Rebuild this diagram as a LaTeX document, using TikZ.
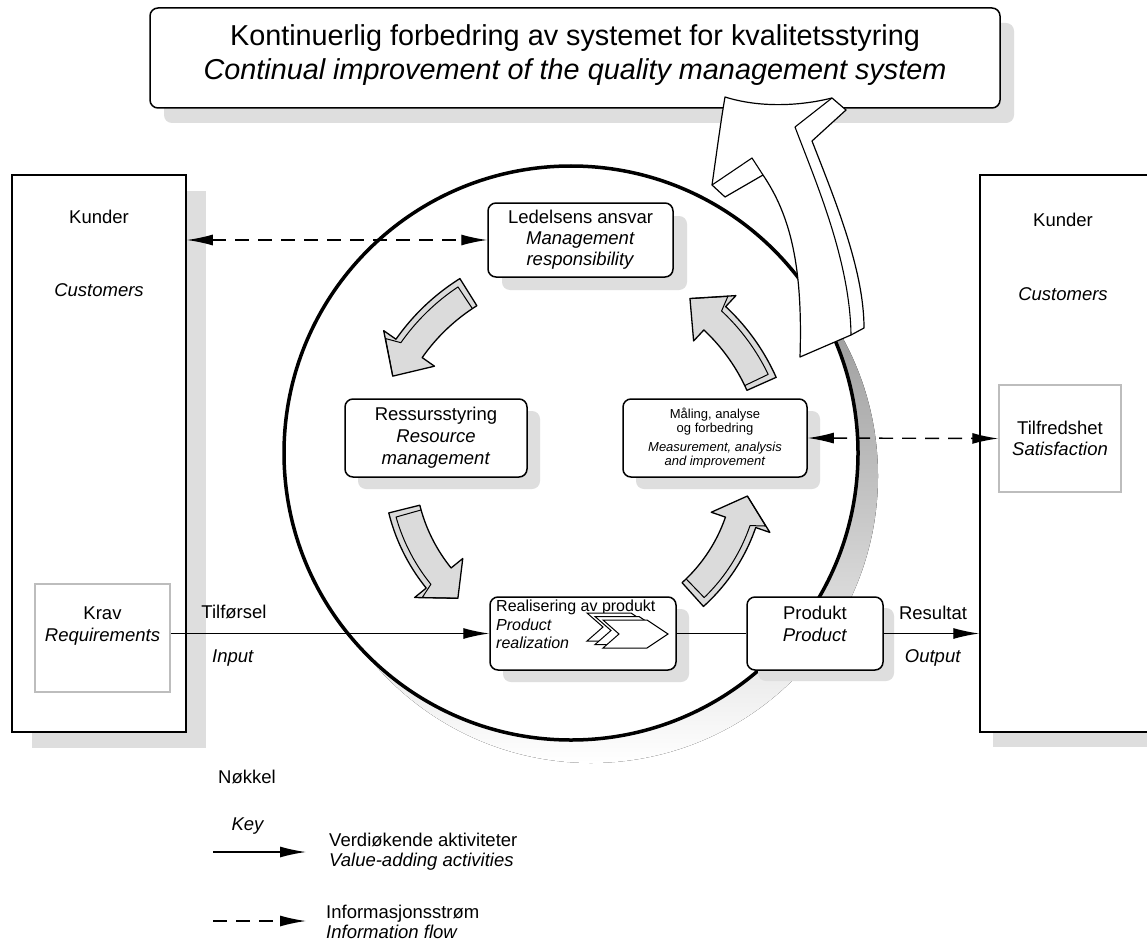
\documentclass[tikz,border=0pt]{standalone}
\usepackage{fontspec}
\setmainfont{Liberation Sans}
\usetikzlibrary{arrows.meta,calc,shadows}
\definecolor{shade}{gray}{0.87}
\definecolor{agray}{gray}{0.86}
\definecolor{lframe}{gray}{0.74}
\newcommand{\gcx}{577}
\newcommand{\gcy}{466}
\newcommand{\garrow}[4]{%
 \pgfmathsetmacro{\gRo}{(#1)+16}%
 \pgfmathsetmacro{\gRi}{(#1)-16}%
 \pgfmathsetmacro{\gHo}{(#1)+31}%
 \pgfmathsetmacro{\gHi}{(#1)-31}%
 \pgfmathsetmacro{\gRs}{(#1)+10}%
 \pgfmathsetmacro{\gHs}{(#1)+25}%
 \pgfmathsetmacro{\gTs}{(#2)+((#3)-(#2))*0.07}%
 \pgfmathsetmacro{\gBs}{(#3)+((#4)-(#3))*0.15}%
 \filldraw[garrowfill] plot[domain=#2:#3,samples=25] ({\gcx+\gRo*cos(\x)},{\gcy+\gRo*sin(\x)})
   -- ({\gcx+\gHo*cos(#3)},{\gcy+\gHo*sin(#3)})
   -- ({\gcx+(#1)*cos(#4)},{\gcy+(#1)*sin(#4)})
   -- ({\gcx+\gHi*cos(#3)},{\gcy+\gHi*sin(#3)})
   -- plot[domain=#3:#2,samples=25] ({\gcx+\gRi*cos(\x)},{\gcy+\gRi*sin(\x)})
   -- cycle;
 \draw[gline] ({\gcx+\gRi*cos(\gTs)},{\gcy+\gRi*sin(\gTs)})
   -- plot[domain=\gTs:#3,samples=25] ({\gcx+\gRs*cos(\x)},{\gcy+\gRs*sin(\x)})
   -- ({\gcx+\gHs*cos(\gBs)},{\gcy+\gHs*sin(\gBs)})
   -- ({\gcx+(#1)*cos(#4)},{\gcy+(#1)*sin(#4)});
}
\newcommand{\chev}[2]{\filldraw[chevron] (#1,#2) -- ++(44,0) -- ++(21,14) -- ++(-21,14) -- ++(-44,0) -- ++(16,-14) -- cycle;}
\tikzset{
 base/.style={font=\fontsize{18.5}{21.5}\selectfont, inner sep=0pt, align=center},
 sh/.style 2 args={drop shadow={shadow xshift=#1pt,shadow yshift=-#2pt,fill=shade,opacity=1}},
 rbox/.style={draw, line width=1.5pt, rounded corners=8pt, fill=white, inner sep=0pt, align=center},
 gbox/.style={draw=lframe, line width=1.5pt, fill=white, inner sep=0pt, align=center, font=\fontsize{18.5}{21.5}\selectfont},
 cbox/.style={draw, line width=1.5pt, fill=white, inner sep=0pt},
 flow/.style={line width=1.4pt, -{Latex[length=26pt,width=11pt]}},
 info/.style={line width=1.4pt, dash pattern=on 14pt off 9pt, {Latex[length=26pt,width=11pt]}-{Latex[length=26pt,width=11pt]}},
 infoone/.style={line width=1.4pt, dash pattern=on 14pt off 9pt, -{Latex[length=26pt,width=11pt]}},
 garrowfill/.style={fill=agray, draw=black, line width=1.3pt, line join=round},
 gline/.style={draw=black, line width=1pt, line join=round},
 chevron/.style={fill=white, draw=black, line width=1pt, line join=miter},
}
\begin{document}
\begin{tikzpicture}[x=1pt,y=-1pt]
\useasboundingbox (0,0) rectangle (1147,944);
\fill[white] (0,0) rectangle (1147,944);
% title
\node[rbox, sh={14}{15}, minimum width=850pt, minimum height=100pt] (title) at (575,58) {};
\node[inner sep=0pt, align=center, font=\fontsize{28.8}{34}\selectfont] (titletext) at (575,55)
  {Kontinuerlig forbedring av systemet for kvalitetsstyring\\\textit{Continual improvement of the quality management system}};
% customer boxes
\node[cbox, sh={20}{16}, minimum width=174pt, minimum height=557pt] (lcust) at (99,453.5) {};
\node[cbox, sh={13}{15}, minimum width=190pt, minimum height=557pt] (rcust) at (1075,453.5) {};
\node[base] (lkunder) at (99,217) {Kunder};
\node[base] (lcustomers) at (99,290) {\textit{Customers}};
\node[base] (rkunder) at (1063,220) {Kunder};
\node[base] (rcustomers) at (1063,294) {\textit{Customers}};
\node[gbox, minimum width=135pt, minimum height=108pt] (krav) at (102.5,638) {};
\node[base] (kravtxt) at (102.5,626) {Krav\\\textit{Requirements}};
\node[gbox, minimum width=122pt, minimum height=107pt] (satis) at (1060,438.5) {Tilfredshet\\\textit{Satisfaction}};
% circle
\fill[shade] (591,476) circle[radius=287pt];
\draw[line width=3.5pt, fill=white] (571,453) circle[radius=287pt];
% curved arrows
\garrow{205}{238}{215}{206}
\garrow{178}{166}{141}{132}
\garrow{173}{48}{19}{10}
\garrow{202}{-24}{-47}{-56}
% process boxes
\node[rbox, sh={14}{13}, minimum width=185pt, minimum height=74pt, font=\fontsize{18.5}{21}\selectfont] (lead) at (580.5,240)
  {Ledelsens ansvar\\\textit{Management}\\\textit{responsibility}};
\node[rbox, sh={13}{12}, minimum width=182pt, minimum height=78pt, font=\fontsize{18.5}{22}\selectfont] (res) at (436,438)
  {Ressursstyring\\\textit{Resource}\\\textit{management}};
\node[rbox, sh={13}{12}, minimum width=184pt, minimum height=78pt, font=\fontsize{13}{14}\selectfont] (meas) at (715,438)
  {Måling, analyse\\og forbedring\\[5pt]\textit{Measurement, analysis}\\\textit{and improvement}};
\node[rbox, sh={13}{12}, minimum width=186pt, minimum height=73pt] (real) at (583,633.5) {};
\node[inner sep=0pt, align=left, anchor=north west, font=\fontsize{16}{18.5}\selectfont] (realtxt) at (496,600)
  {Realisering av produkt\\\textit{Product}\\\textit{realization}};
\chev{587}{613}
\chev{595}{616.5}
\chev{603}{620}
\node[rbox, sh={11}{11}, minimum width=136pt, minimum height=73pt] (prod) at (815,633.5) {};
\node[base] (prodtxt) at (815,624) {Produkt\\\textit{Product}};
% big improvement arrow
\filldraw[fill=white, draw=black, line width=1.2pt, line join=round]
 (725,97) .. controls (760,108) and (800,106) .. (832,98)
 -- (846,110) -- (812,141)
 .. controls (835,200) and (864,270) .. (864,328)
 -- (851,335) -- (800,357)
 .. controls (803,265) and (790,215) .. (763,175)
 -- (725,197) -- (712,185)
 .. controls (717,150) and (721,120) .. (725,97) -- cycle;
\draw[line width=1.1pt, line join=round] (832,98) -- (795,127) .. controls (815,180) and (850,260) .. (851,335);
\draw[line width=1.1pt, line join=round] (712,185) -- (752,158) -- (763,175);
% connectors
\draw[flow] (krav.east |- real.west) -- (real.west);
\draw[line width=1.4pt] (real.east) -- (prod.west);
\draw[flow] (prod.east) -- (prod.east -| rcust.west);
\draw[info] (lcust.east |- lead.west) -- (lead.west);
\draw[info] (meas.east) -- (satis.west);
\node[base] (tilf) at (234,612) {Tilførsel};
\node[base] (inp) at (233,658) {\textit{Input}};
\node[base] (resl) at (933,613) {Resultat};
\node[base] (outp) at (933,658) {\textit{Output}};
% key
\node[base] (nokkel) at (247,777) {Nøkkel};
\node[base] (key) at (248,826) {\textit{Key}};
\coordinate (k1a) at (213,852);
\coordinate (k1b) at (306,852);
\draw[flow] (k1a) -- (k1b);
\node[base, anchor=west, align=left, font=\fontsize{18.5}{20}\selectfont] (k1t) at (329,852) {Verdiøkende aktiviteter\\\textit{Value-adding activities}};
\coordinate (k2a) at (213,921);
\coordinate (k2b) at (306,921);
\draw[infoone] (k2a) -- (k2b);
\node[base, anchor=west, align=left, font=\fontsize{18.5}{20}\selectfont] (k2t) at (326,922) {Informasjonsstrøm\\\textit{Information flow}};
\end{tikzpicture}
\end{document}
